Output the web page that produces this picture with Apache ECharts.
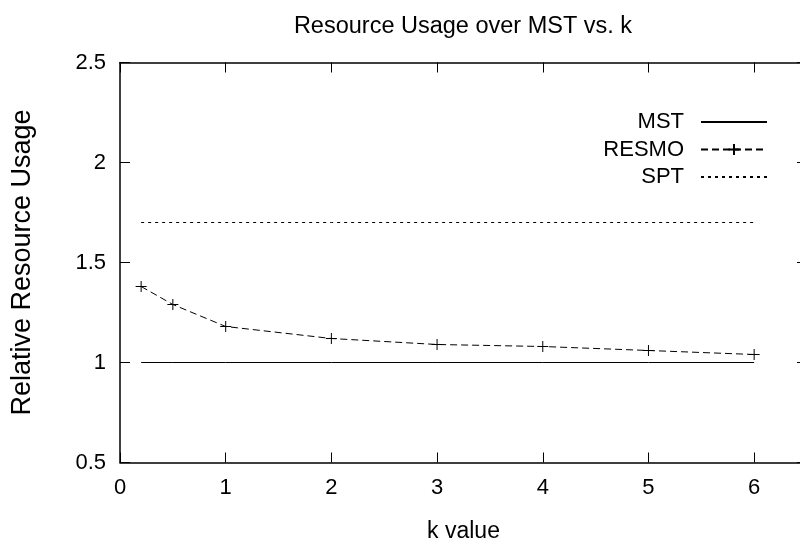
<!DOCTYPE html>
<html>
<head>
<meta charset="utf-8">
<script src="https://cdn.jsdelivr.net/npm/echarts@6/dist/echarts.min.js"></script>
<style>
  html, body { margin: 0; padding: 0; background: #fff; }
  #chart { width: 800px; height: 546px; }
</style>
</head>
<body>
<div id="chart"></div>
<script>
// k values at which each method was evaluated
const kValues = [0.2, 0.5, 1, 2, 3, 4, 5, 6];
// resource usage relative to the minimum spanning tree
const mstUsage = [1, 1, 1, 1, 1, 1, 1, 1];
const resmoUsage = [1.38, 1.29, 1.18, 1.12, 1.09, 1.08, 1.06, 1.04];
const sptUsage = [1.7, 1.7, 1.7, 1.7, 1.7, 1.7, 1.7, 1.7];
const seriesNames = ['MST', 'RESMO', 'SPT'];

const FONT = "'Liberation Sans', Arial, Helvetica, sans-serif";
const INK = '#000';
const CLEAR = 'rgba(0,0,0,0)';

function pairs(ys) {
  return kValues.map((k, i) => [k, ys[i]]);
}

const frameLine = { show: true, onZero: false, lineStyle: { color: INK, width: 1.5 } };
const innerTick = { show: true, inside: true, length: 10, lineStyle: { color: INK, width: 1 } };

const chart = echarts.init(document.getElementById('chart'), null, { renderer: 'canvas' });

chart.setOption({
  animation: false,
  backgroundColor: '#fff',
  title: {
    text: 'Resource Usage over MST vs. k',
    left: 463,
    textAlign: 'center',
    top: 15,
    padding: 0,
    textStyle: { fontFamily: FONT, fontSize: 23.5, fontWeight: 'normal', color: INK }
  },
  grid: {
    left: 120, top: 62.5, width: 687, height: 400,
    outerBoundsMode: 'none', containLabel: false
  },
  legend: {
    data: seriesNames,
    orient: 'vertical',
    align: 'right',
    right: 32,
    top: 111,
    padding: 0,
    itemWidth: 66,
    itemHeight: 14,
    itemGap: 5.5,
    selectedMode: false,
    textStyle: {
      fontFamily: FONT, fontSize: 22, color: INK, lineHeight: 22,
      padding: [0, 12, 0, 0]
    }
  },
  xAxis: [
    {
      type: 'value', position: 'bottom', min: 0, max: 6.5, interval: 1,
      name: 'k value', nameLocation: 'middle', nameGap: 58,
      nameTextStyle: { fontFamily: FONT, fontSize: 23, color: INK },
      axisLine: frameLine, axisTick: innerTick,
      axisLabel: { fontFamily: FONT, fontSize: 22, color: INK, margin: 14, showMaxLabel: false },
      splitLine: { show: false }
    },
    {
      type: 'value', position: 'top', min: 0, max: 6.5, interval: 1,
      axisLine: frameLine, axisTick: innerTick,
      axisLabel: { show: false }, splitLine: { show: false }
    }
  ],
  yAxis: [
    {
      type: 'value', position: 'left', min: 0.5, max: 2.5, interval: 0.5,
      name: 'Relative Resource Usage', nameLocation: 'middle', nameGap: 84, nameRotate: 90,
      nameTextStyle: { fontFamily: FONT, fontSize: 27, color: INK },
      axisLine: frameLine, axisTick: innerTick,
      axisLabel: { fontFamily: FONT, fontSize: 22, color: INK, margin: 14 },
      splitLine: { show: false }
    },
    {
      type: 'value', position: 'right', min: 0.5, max: 2.5, interval: 0.5,
      axisLine: frameLine, axisTick: innerTick,
      axisLabel: { show: false }, splitLine: { show: false }
    }
  ],
  series: [
    {
      // plain line: the legend marker is kept invisible
      name: 'MST', type: 'line', data: pairs(mstUsage),
      symbol: 'none', silent: true,
      lineStyle: { color: INK, width: 1, type: 'solid' },
      itemStyle: { color: CLEAR, borderColor: CLEAR }
    },
    {
      name: 'RESMO', type: 'line', data: pairs(resmoUsage),
      symbol: 'path://M0,5L10,5M5,0L5,10', symbolSize: 11, showSymbol: true, silent: true,
      lineStyle: { color: INK, width: 1, type: [7, 4] },
      itemStyle: { color: CLEAR, borderColor: INK, borderWidth: 1 }
    },
    {
      name: 'SPT', type: 'line', data: pairs(sptUsage),
      symbol: 'none', silent: true,
      lineStyle: { color: INK, width: 1, type: [3, 4] },
      itemStyle: { color: CLEAR, borderColor: CLEAR }
    }
  ]
});
</script>
</body>
</html>
